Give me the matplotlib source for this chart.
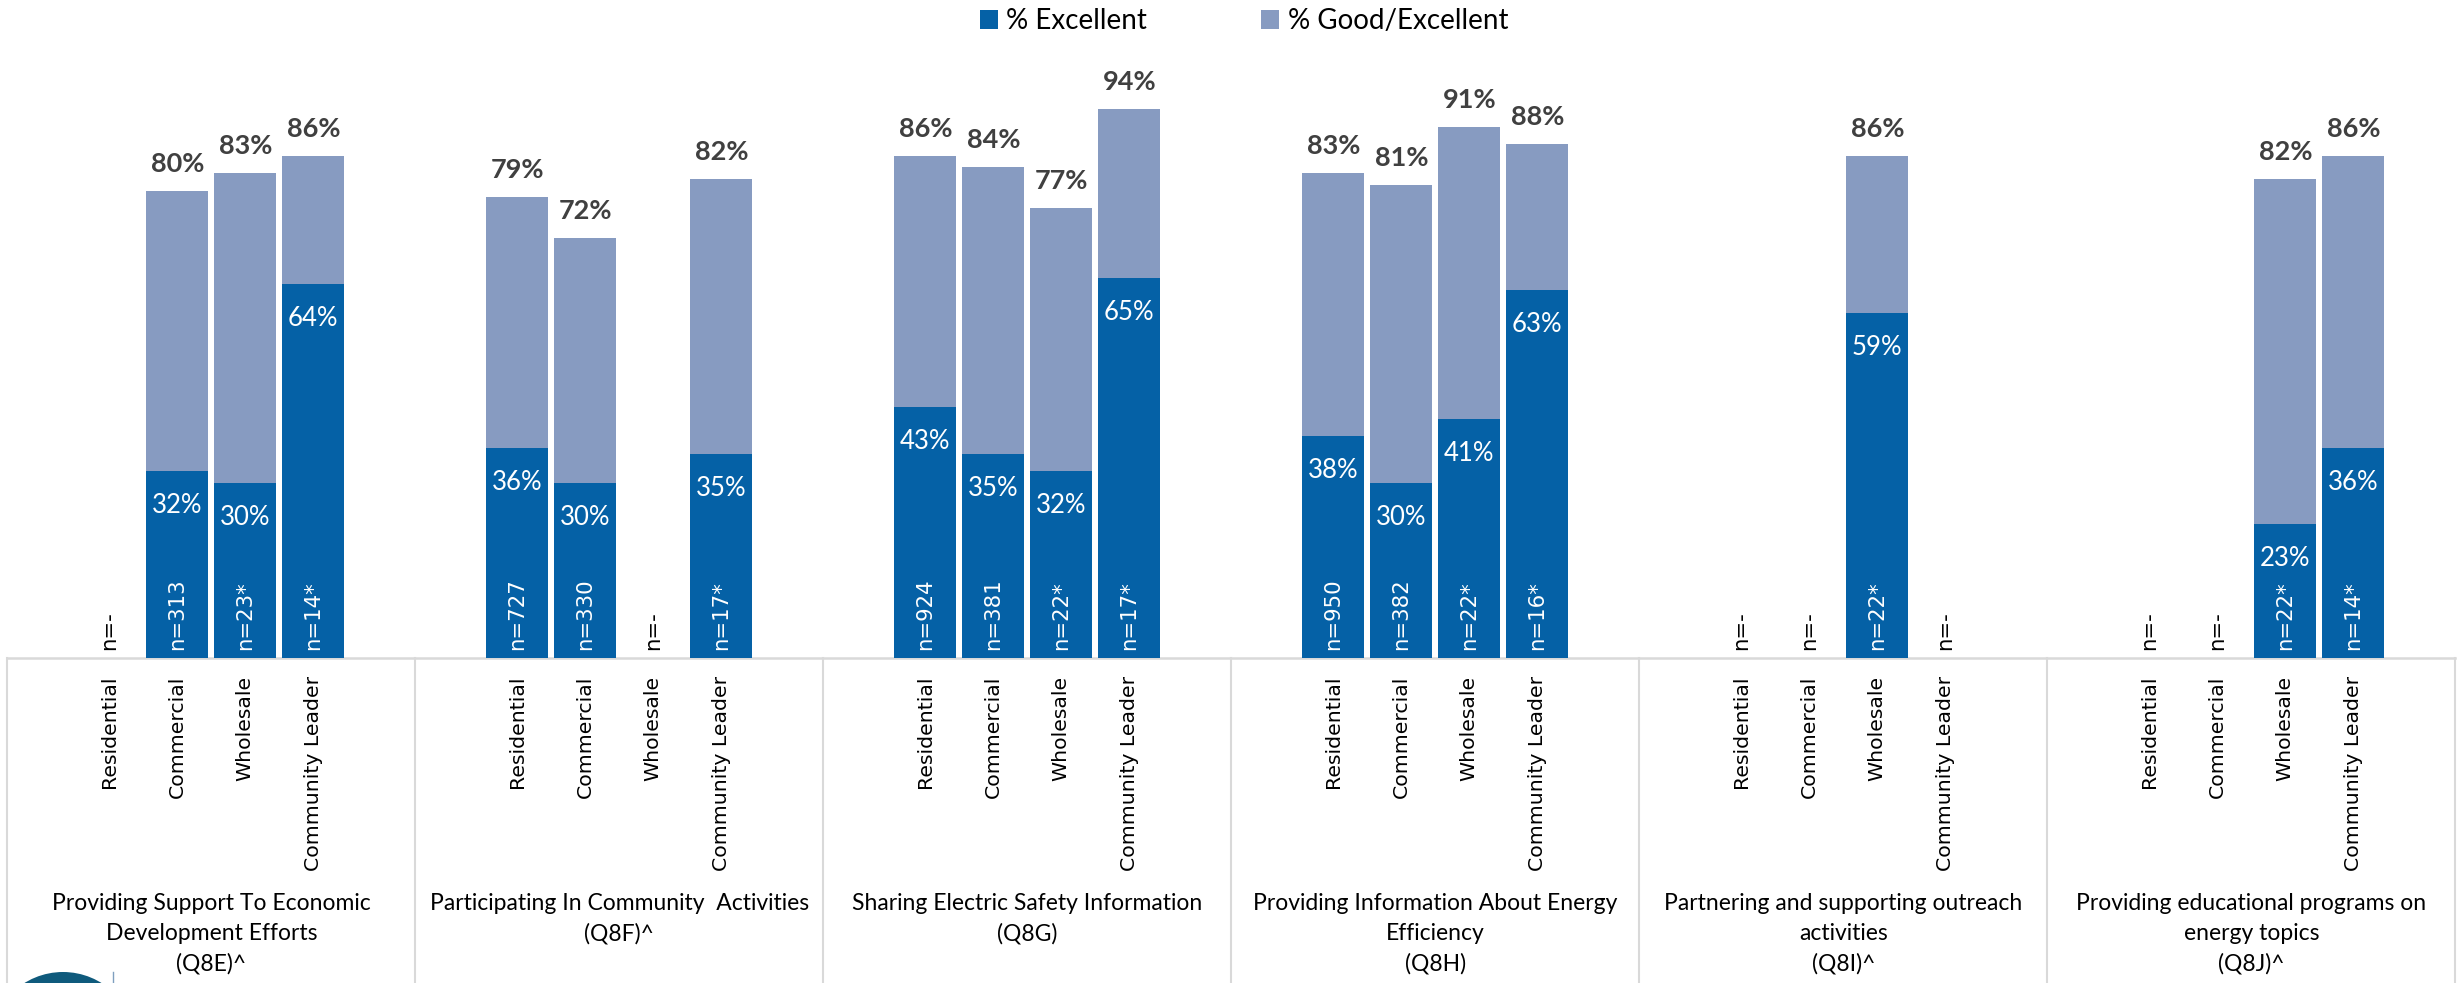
import matplotlib
matplotlib.use("Agg")
import matplotlib.pyplot as plt
from matplotlib.patches import Patch, Circle
from matplotlib.lines import Line2D
import numpy as np

# ---- data -------------------------------------------------------------
segments = ["Residential", "Commercial", "Wholesale", "Community Leader"]

group_titles = [
    "Providing Support To Economic\nDevelopment Efforts\n(Q8E)^",
    "Participating In Community  Activities\n(Q8F)^",
    "Sharing Electric Safety Information\n(Q8G)",
    "Providing Information About Energy\nEfficiency\n(Q8H)",
    "Partnering and supporting outreach\nactivities\n(Q8I)^",
    "Providing educational programs on\nenergy topics\n(Q8J)^",
]

# % Excellent per group (Residential, Commercial, Wholesale, Community Leader); None = no data
pct_excellent = [
    [None, 32, 30, 64],
    [36, 30, None, 35],
    [43, 35, 32, 65],
    [38, 30, 41, 63],
    [None, None, 59, None],
    [None, None, 23, 36],
]

# % Good/Excellent
pct_good_excellent = [
    [None, 80, 83, 86],
    [79, 72, None, 82],
    [86, 84, 77, 94],
    [83, 81, 91, 88],
    [None, None, 86, None],
    [None, None, 82, 86],
]

# sample sizes
sample_n = [
    ["-", "313", "23*", "14*"],
    ["727", "330", "-", "17*"],
    ["924", "381", "22*", "17*"],
    ["950", "382", "22*", "16*"],
    ["-", "-", "22*", "-"],
    ["-", "-", "22*", "14*"],
]

legend_labels = ["% Excellent", "% Good/Excellent"]

# ---- style ------------------------------------------------------------
DARK = "#0561A6"
LIGHT = "#879BC1"
GRID = "#D9D9D9"
LABEL_GRAY = "#404040"
TITLE_FONT = "Lato"
AXIS_FONT = "DejaVu Sans"

fig = plt.figure(figsize=(24.6, 9.83), dpi=100)
fig.patch.set_facecolor("white")
ax = fig.add_axes([7.3 / 2460, 1 - 658 / 983, 2448 / 2460, 584 / 983])

slots_per_group = 6
bar_w = 0.907
px = 72 / 100  # points per pixel

for g in range(len(group_titles)):
    base = g * slots_per_group
    for k, seg in enumerate(segments):
        x = base + 1 + k
        exc = pct_excellent[g][k]
        good = pct_good_excellent[g][k]
        n = sample_n[g][k]
        if good is not None:
            ax.bar(x, good / 100, width=bar_w, color=LIGHT, zorder=2)
            ax.annotate(f"{good}%", xy=(x, good / 100), xytext=(0, 19 * px),
                        textcoords="offset points", ha="center", va="baseline",
                        fontsize=19.5, fontweight="bold", color=LABEL_GRAY,
                        family=TITLE_FONT)
        if exc is not None:
            ax.bar(x, exc / 100, width=bar_w, color=DARK, zorder=3)
            ax.annotate(f"{exc}%", xy=(x, exc / 100), xytext=(0, -42 * px),
                        textcoords="offset points", ha="center", va="baseline",
                        fontsize=18.5, color="white", family=TITLE_FONT, zorder=5)
        # sample size at bar foot
        ax.annotate(f"n={n}", xy=(x, 0), xytext=(0, 8 * px),
                    textcoords="offset points", ha="center", va="bottom",
                    rotation=90, fontsize=15.3, family=AXIS_FONT,
                    color="white" if exc is not None else "black", zorder=6)
        # category label under the axis
        ax.annotate(seg, xy=(x, 0), xycoords=("data", "axes fraction"),
                    xytext=(0, -18 * px), textcoords="offset points",
                    ha="center", va="top", rotation=90, fontsize=14.7,
                    family=AXIS_FONT, color="black", annotation_clip=False)
    # group title
    ax.annotate(group_titles[g], xy=(base + 2.5, 0), xycoords=("data", "axes fraction"),
                xytext=(0, -(893 - 658) * px), textcoords="offset points",
                ha="center", va="top", multialignment="center", linespacing=1.52,
                fontsize=16.5, family=TITLE_FONT, color="black", annotation_clip=False)

ngroups = len(group_titles)
xmin, xmax = -0.5, ngroups * slots_per_group - 0.5
ax.set_xlim(xmin, xmax)
ax.set_ylim(0, 1)
ax.axis("off")

# table lines below the bars
xt = ax.get_xaxis_transform()
ax.plot([xmin, xmax], [0, 0], color=GRID, lw=1.8, transform=xt, clip_on=False, zorder=1)
for b in range(ngroups + 1):
    xb = b * slots_per_group - 0.5
    ax.plot([xb, xb], [0, -0.7], color=GRID, lw=1.5, transform=xt, clip_on=False, zorder=1)

# legend
handles = [Patch(facecolor=DARK), Patch(facecolor=LIGHT)]
fig.legend(handles, legend_labels, loc="center", bbox_to_anchor=(1244 / 2460, 1 - 21 / 983),
           ncol=2, frameon=False, prop={"family": TITLE_FONT, "size": 20},
           handlelength=0.65, handleheight=0.65, handletextpad=0.3, columnspacing=4.1)

# corner logo mark
fig.add_artist(Circle((0.63, -0.62), 0.73, transform=fig.dpi_scale_trans,
                      facecolor="#0F5A7C", edgecolor="none"))
fig.add_artist(Line2D([1.13, 1.13], [0, 0.11], transform=fig.dpi_scale_trans,
                      color="#7F9FBF", lw=1))

fig.savefig("out.png", dpi=100, facecolor="white")
